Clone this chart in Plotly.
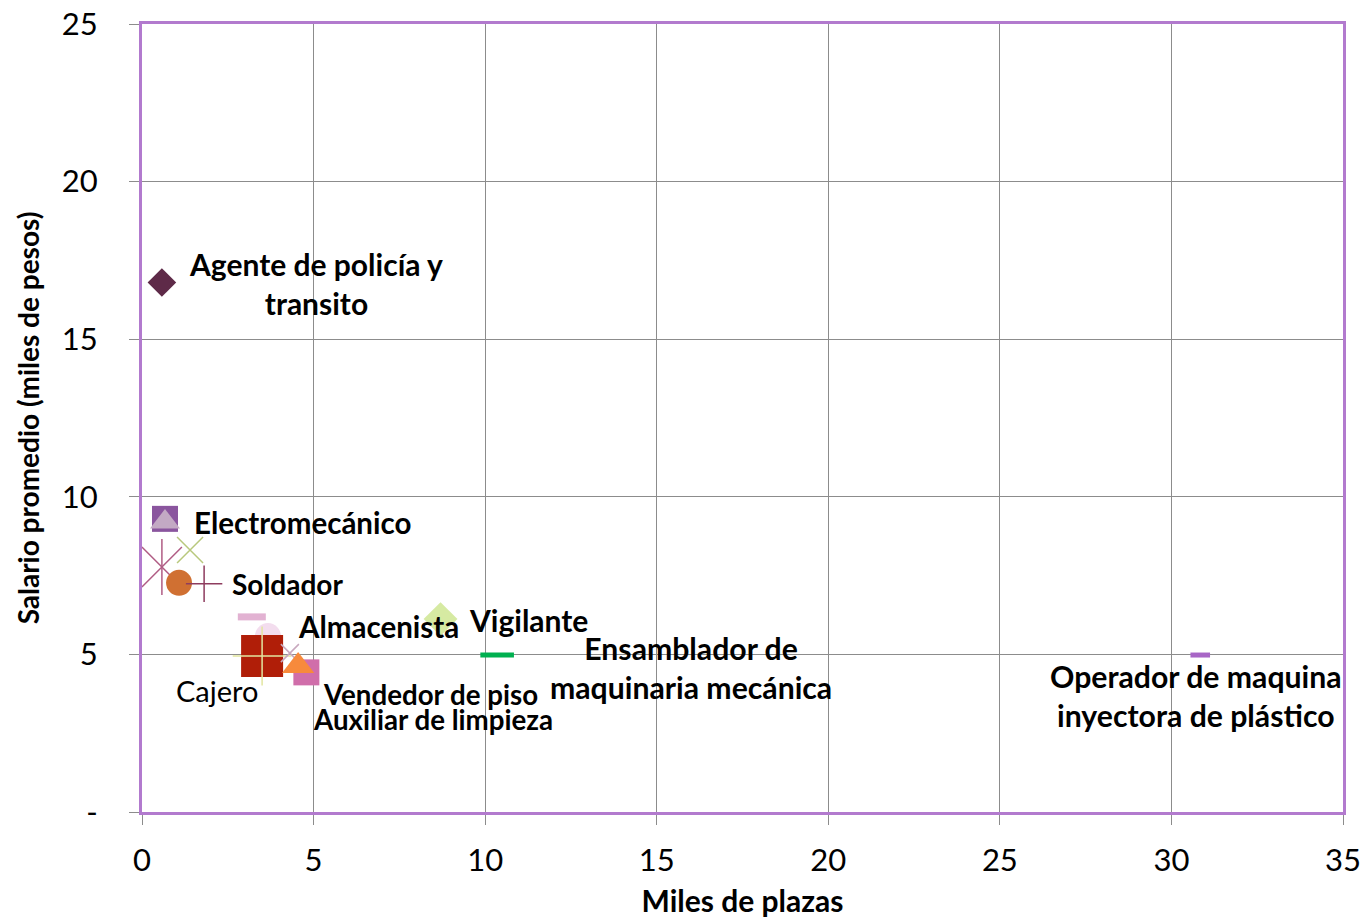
import plotly.graph_objects as go

# data (miles de plazas, salario promedio en miles de pesos)
names = ["Agente de policía", "Electromecánico (sq)", "Electromecánico (tri)", "Star X", "Star |", "X verde",
         "Soldador (circ)", "Soldador (+)", "Dash rosa", "Círculo rosa", "Cajero", "Cajero (+)",
         "X gris", "Auxiliar de limpieza", "Vendedor de piso", "Vigilante", "Ensamblador", "Operador"]
xs = [0.58, 0.67, 0.67, 0.58, 0.58, 1.4, 1.08, 1.81, 3.2, 3.67, 3.5, 3.5, 4.31, 4.79, 4.55, 8.7, 10.35, 30.84]
ys = [16.8, 9.3, 9.2, 7.77, 7.77, 8.31, 7.27, 7.24, 6.19, 5.58, 4.95, 4.95, 5.04, 4.43, 4.63, 6.12, 4.98, 4.98]
symbols = ["diamond", "square", "triangle-up", "x-thin-open", "line-ns-open", "x-thin-open", "circle",
           "cross-thin-open", "line-ew-open", "circle", "square", "cross-thin-open", "x-thin-open",
           "square", "triangle-up", "diamond", "line-ew-open", "line-ew-open"]
colors = ["#5E2A48", "#8A559E", "#C3A9C4", "#B05C84", "#B05C84", "#B8C87C", "#D07032", "#8E3C5E", "#E2B2D2",
          "#F3DDEE", "#B01E08", "#E2E6A0", "#C8A8BE", "#D06EAA", "#F78A3C", "#D6EAA2", "#00B050", "#A866C6"]
sizes = [22, 26, 26, 40, 40, 26, 26, 26, 20, 26, 42, 42, 18, 26, 28, 26, 24, 14]
lwidths = [0, 0, 0, 1.5, 1.5, 1.5, 0, 1.5, 7, 0, 0, 1.5, 1.5, 0, 0, 0, 5, 5]

label_text = ["<b>Agente de policía y<br>transito</b>", "<b>Electromecánico</b>", "<b>Soldador</b>",
              "<b>Almacenista</b>", "<b>Vigilante</b>", "<b>Ensamblador de<br>maquinaria mecánica</b>",
              "<b>Vendedor de piso</b>", "<b>Auxiliar de limpieza</b>", "Cajero",
              "<b>Operador de maquina<br>inyectora de plástico</b>"]
label_x = [5.07, 4.69, 4.23, 6.88, 11.25, 16.0, 8.42, 8.48, 2.19, 30.72]
label_y = [16.78, 9.2, 7.23, 5.9, 6.09, 4.6, 3.74, 2.95, 3.87, 3.71]
label_fs = [30, 29.5, 28, 29.5, 30, 30.2, 27.7, 27.7, 29, 30.2]

x_ticks = [0, 5, 10, 15, 20, 25, 30, 35]
y_ticks = [0, 5, 10, 15, 20, 25]
y_ticktext = ["-", "5", "10", "15", "20", "25"]

fig = go.Figure()
for i in range(len(xs)):
    fig.add_trace(go.Scatter(
        x=[xs[i]], y=[ys[i]], mode="markers", name=names[i], showlegend=False,
        marker=dict(symbol=symbols[i], size=sizes[i], color=colors[i],
                    line=dict(color=colors[i], width=lwidths[i])),
        cliponaxis=False))

for t, x, y, fs in zip(label_text, label_x, label_y, label_fs):
    fig.add_annotation(x=x, y=y, xref="x", yref="y", text=t, showarrow=False,
                       font=dict(size=fs, color="black", family="Lato"), align="center")

fig.update_layout(
    width=1366, height=919,
    margin=dict(l=142, r=23, t=24, b=107),
    paper_bgcolor="white", plot_bgcolor="white",
    font=dict(family="Lato", color="black"),
    xaxis=dict(range=[0, 35], tickvals=x_ticks, showgrid=True, gridcolor="#8C8C8C", gridwidth=1,
               showline=True, linecolor="#B27ACE", linewidth=3, mirror=True, zeroline=False,
               automargin=False,
               ticks="outside", ticklen=10, tickcolor="#8C8C8C", tickfont=dict(size=31),
               ticklabelstandoff=9,
               title=dict(text="<b>Miles de plazas</b>", font=dict(size=30), standoff=14)),
    yaxis=dict(range=[0, 25], tickvals=y_ticks, ticktext=y_ticktext, showgrid=True, gridcolor="#8C8C8C",
               gridwidth=1, showline=True, linecolor="#B27ACE", linewidth=3, mirror=True, zeroline=False,
               automargin=False,
               ticks="outside", ticklen=10, tickcolor="#8C8C8C", tickfont=dict(size=31),
               ticklabelstandoff=25,
               title=dict(text="<b>Salario promedio (miles de pesos)</b>", font=dict(size=28), standoff=15)),
)

fig.write_html("out.html", config={"displayModeBar": False},
               post_script="document.body.style.margin='0';document.body.style.overflow='hidden';")
